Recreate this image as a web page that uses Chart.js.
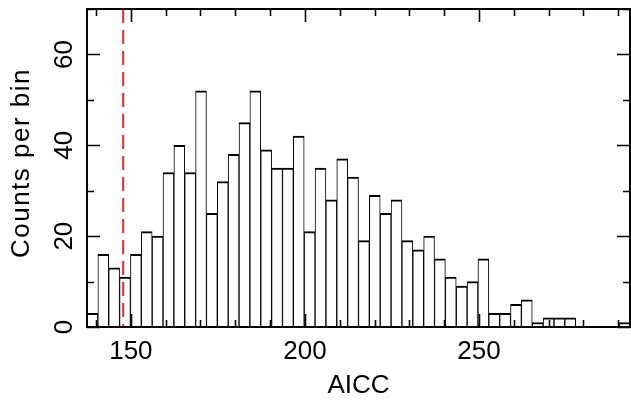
<!DOCTYPE html>
<html>
<head>
<meta charset="utf-8">
<title>AICC histogram</title>
<script src="https://cdn.jsdelivr.net/npm/chart.js@4/dist/chart.umd.min.js"></script>
<style>
    html, body { margin: 0; padding: 0; background: #fff; }
    #histo { display: block; }
</style>
</head>
<body>
<canvas id="histo" width="631" height="412"></canvas>
<script>
// histogram bins (AICC), 50 equal bins across the x range
const binStart = 137.4;
const binWidth = 3.12;
const binCounts = [3, 16, 13, 11, 16, 21, 20, 34, 40, 34,
                   52, 25, 32, 38, 45, 52, 39, 35, 35, 42,
                   21, 35, 28, 37, 33, 19, 29, 25, 28, 19,
                   17, 20, 15, 11, 9, 10, 15, 3, 3, 5,
                   6, 1, 2, 2, 2, 0, 0, 0, 0, 1];

// reference value marked by the red dashed line
const refAicc = 147.8;

// axis ranges and tick labels
const xRange = [137.4, 293.4];
const yRange = [0, 70];
const xMajorTicks = [150, 200, 250];
const xMinorStep = 10;
const yMajorTicks = [0, 20, 40, 60];
const yMinorStep = 10;

const xTitle = "AICC";
const yTitle = "Counts per bin";

const FONT = '"Liberation Sans", Arial, sans-serif';

// draws the boxed frame with inward ticks, like the original plot
const framePlugin = {
    id: 'frame',
    afterDraw(chart) {
        const ctx = chart.ctx;
        const area = chart.chartArea;
        const xs = chart.scales.x;
        const ys = chart.scales.y;

        ctx.save();
        ctx.strokeStyle = '#000';
        ctx.lineWidth = 2;
        ctx.strokeRect(area.left, area.top, area.right - area.left, area.bottom - area.top);

        ctx.lineWidth = 1.6;
        ctx.beginPath();
        // x ticks, bottom and top
        for (let v = Math.ceil(xRange[0] / xMinorStep) * xMinorStep; v <= xRange[1]; v += xMinorStep) {
            const px = Math.round(xs.getPixelForValue(v)) + 0.5;
            const len = xMajorTicks.includes(v) ? 13 : 7;
            ctx.moveTo(px, area.bottom);
            ctx.lineTo(px, area.bottom - len);
            ctx.moveTo(px, area.top);
            ctx.lineTo(px, area.top + len);
        }
        // y ticks, left and right
        for (let v = yRange[0]; v <= yRange[1]; v += yMinorStep) {
            const py = Math.round(ys.getPixelForValue(v)) + 0.5;
            const len = yMajorTicks.includes(v) ? 13 : 7;
            ctx.moveTo(area.left, py);
            ctx.lineTo(area.left + len, py);
            ctx.moveTo(area.right, py);
            ctx.lineTo(area.right - len, py);
        }
        ctx.stroke();

        // tick labels
        ctx.fillStyle = '#000';
        ctx.font = '26px ' + FONT;
        ctx.textAlign = 'center';
        ctx.textBaseline = 'alphabetic';
        xMajorTicks.forEach(v => {
            ctx.fillText(String(v), xs.getPixelForValue(v), 359);
        });
        yMajorTicks.forEach(v => {
            ctx.save();
            ctx.translate(72, ys.getPixelForValue(v));
            ctx.rotate(-Math.PI / 2);
            ctx.fillText(String(v), 0, 0);
            ctx.restore();
        });

        // axis titles
        ctx.fillText(xTitle, (area.left + area.right) / 2, 393);
        ctx.save();
        ctx.translate(29, 163);
        ctx.rotate(-Math.PI / 2);
        ctx.letterSpacing = '1.5px';
        ctx.fillText(yTitle, 0, 0);
        ctx.restore();
        ctx.restore();
    }
};

const ctx = document.getElementById('histo').getContext('2d');
const histoChart = new Chart(ctx, {
    type: 'bar',
    data: {
        datasets: [{
            type: 'bar',
            data: binCounts.map((c, i) => ({ x: binStart + binWidth * (i + 0.5), y: c })),
            backgroundColor: '#ffffff',
            borderColor: '#000000',
            borderWidth: { top: 2, left: 1, right: 1, bottom: 0 },
            borderSkipped: false,
            barPercentage: 1,
            categoryPercentage: 1,
            order: 2
        }, {
            type: 'line',
            data: [{ x: refAicc, y: yRange[1] }, { x: refAicc, y: yRange[0] }],
            borderColor: '#e8262b',
            borderWidth: 2,
            borderDash: [14, 7],
            pointRadius: 0,
            fill: false,
            order: 1
        }]
    },
    options: {
        responsive: false,
        animation: false,
        devicePixelRatio: 1,
        layout: {
            padding: { left: 87, right: 1, top: 9, bottom: 85 }
        },
        plugins: {
            legend: { display: false },
            tooltip: { enabled: false }
        },
        scales: {
            x: { type: 'linear', min: xRange[0], max: xRange[1], offset: false, display: false },
            y: { type: 'linear', min: yRange[0], max: yRange[1], display: false }
        }
    },
    plugins: [framePlugin]
});
</script>
</body>
</html>
